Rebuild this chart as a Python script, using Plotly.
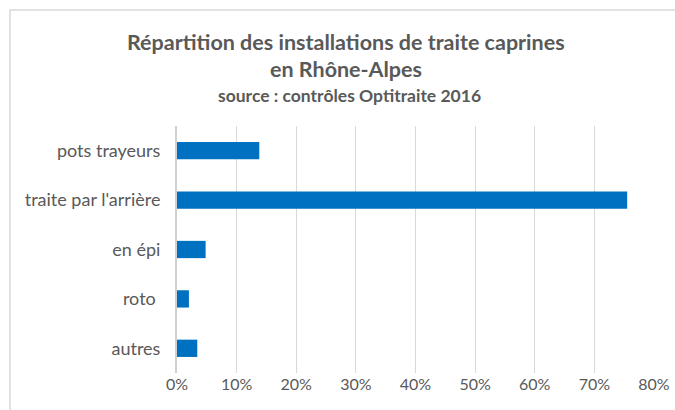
import plotly.graph_objects as go

categories = ["pots trayeurs", "traite par l'arrière", "en épi", "roto ", "autres"]
shares = [0.138, 0.755, 0.048, 0.020, 0.034]
tick_vals = [0, 0.1, 0.2, 0.3, 0.4, 0.5, 0.6, 0.7, 0.8]
tick_text = ["0%", "10%", "20%", "30%", "40%", "50%", "60%", "70%", "80%"]

W, H = 675, 410
L, R, T, B = 177, 21, 126, 37
pw, ph = W - L - R, H - T - B


def px_x(x):
    return (x - L) / pw


def px_y(y):
    return (H - B - y) / ph


fig = go.Figure()
fig.add_trace(go.Bar(
    x=shares,
    y=categories,
    orientation='h',
    marker={'color': '#0070c0', 'line': {'width': 0}},
    showlegend=False,
))

grey = '#595959'
fig.update_layout(
    width=W, height=H,
    margin={'l': L, 'r': R, 't': T, 'b': B},
    paper_bgcolor='white',
    plot_bgcolor='white',
    bargap=0.65,
    font={'family': 'Lato, "Open Sans", sans-serif', 'color': grey, 'size': 14},
    xaxis={
        'range': [0, 0.8],
        'tickvals': tick_vals,
        'ticktext': tick_text,
        'showgrid': True,
        'gridcolor': '#d9d9d9',
        'gridwidth': 1,
        'zeroline': False,
        'showline': False,
        'ticks': '',
        'automargin': False,
        'tickfont': {'size': 16, 'color': grey},
        'fixedrange': True,
    },
    yaxis={
        'categoryorder': 'array',
        'categoryarray': categories[::-1],
        'showline': True,
        'linecolor': '#d0d0d0',
        'linewidth': 2,
        'ticks': '',
        'automargin': False,
        'ticklabelstandoff': 11,
        'tickfont': {'size': 18, 'color': grey},
        'showgrid': False,
        'fixedrange': True,
    },
    # chart-area frame: only the left and top edges are visible in the source
    shapes=[{
        'type': 'rect', 'xref': 'paper', 'yref': 'paper',
        'x0': px_x(10), 'x1': px_x(678), 'y0': px_y(10), 'y1': px_y(413),
        'line': {'color': '#d9d9d9', 'width': 1.5}, 'fillcolor': 'rgba(0,0,0,0)',
        'layer': 'below',
    }],
    annotations=[
        {'text': '<b>Répartition des installations de traite caprines</b>',
         'xref': 'paper', 'yref': 'paper', 'x': px_x(346), 'y': px_y(42),
         'showarrow': False, 'font': {'size': 21.5, 'color': grey}, 'xanchor': 'center', 'yanchor': 'middle'},
        {'text': '<b>en Rhône-Alpes</b>',
         'xref': 'paper', 'yref': 'paper', 'x': px_x(346), 'y': px_y(69),
         'showarrow': False, 'font': {'size': 21.5, 'color': grey}, 'xanchor': 'center', 'yanchor': 'middle'},
        {'text': '<b>source : contrôles Optitraite 2016</b>',
         'xref': 'paper', 'yref': 'paper', 'x': px_x(349), 'y': px_y(95),
         'showarrow': False, 'font': {'size': 17.5, 'color': grey}, 'xanchor': 'center', 'yanchor': 'middle'},
    ],
)

fig.write_html("out.html", config={'displayModeBar': False},
               post_script="document.body.style.margin='0';"
                           "document.body.style.overflow='hidden';"
                           "document.documentElement.style.overflow='hidden';")
